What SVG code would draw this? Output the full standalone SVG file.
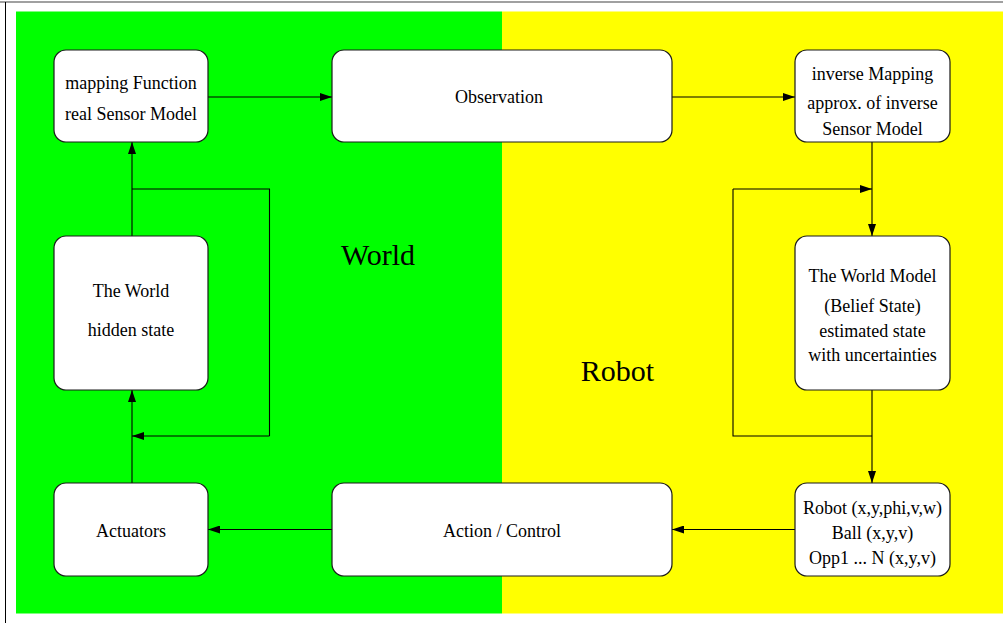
<svg xmlns="http://www.w3.org/2000/svg" width="1003" height="623" viewBox="0 0 1003 623">
  <style>
    .node rect { fill: #ffffff; stroke: #1a1a1a; stroke-width: 1.2; }
    .node text { font-family: "Liberation Serif", "Times New Roman", serif; font-size: 18px; fill: #000; text-anchor: middle; }
    .region { font-family: "Liberation Serif", "Times New Roman", serif; font-size: 30px; fill: #000; text-anchor: middle; }
    .edges path { fill: none; stroke: #000; stroke-width: 1.1; marker-end: url(#arrow); }
    .edges path.plain { marker-end: none; }
  </style>
  <defs>
    <marker id="arrow" viewBox="0 0 12 8" refX="12" refY="4" markerWidth="12" markerHeight="8" markerUnits="userSpaceOnUse" orient="auto">
      <path d="M0,0 L12,4 L0,8 Z" fill="#000"/>
    </marker>
  </defs>

  <!-- page frame -->
  <rect x="0" y="0" width="1003" height="623" fill="#ffffff"/>
  <line x1="0" y1="2" x2="1003" y2="2" stroke="#808080" stroke-width="1.5"/>
  <line x1="5.5" y1="2" x2="5.5" y2="623" stroke="#000" stroke-width="1"/>

  <!-- regions -->
  <rect x="16" y="11.5" width="486" height="602" fill="#00ff00"/>
  <rect x="502" y="11.5" width="501" height="602" fill="#ffff00"/>
  <text class="region" x="378" y="265">World</text>
  <text class="region" x="617.5" y="381">Robot</text>

  <!-- connectors -->
  <g class="edges">
    <path d="M208,97 L332,97"/>
    <path d="M672,97 L795,97"/>
    <path d="M872,142 L872,236"/>
    <path d="M872,390 L872,483"/>
    <path class="plain" d="M872,436 L733,436 L733,189"/>
    <path d="M733,189 L872,189"/>
    <path d="M795,529.5 L672,529.5"/>
    <path d="M332,529.5 L208,529.5"/>
    <path d="M132,483 L132,390"/>
    <path d="M132,236 L132,142"/>
    <path class="plain" d="M132,189 L269.5,189 L269.5,436"/>
    <path d="M269.5,436 L132,436"/>
  </g>

  <!-- nodes -->
  <g id="sensor-model" class="node">
    <rect x="54" y="50" width="154" height="92" rx="12" ry="12"/>
    <text x="131" y="89">mapping Function</text>
    <text x="131" y="119.5">real Sensor Model</text>
  </g>
  <g id="observation" class="node">
    <rect x="332" y="50" width="340" height="92" rx="12" ry="12"/>
    <text x="499" y="103">Observation</text>
  </g>
  <g id="inverse-mapping" class="node">
    <rect x="795" y="50" width="155" height="92" rx="12" ry="12"/>
    <text x="872.5" y="79.5">inverse Mapping</text>
    <text x="872.5" y="109">approx. of inverse</text>
    <text x="872.5" y="134.5">Sensor Model</text>
  </g>
  <g id="the-world" class="node">
    <rect x="54" y="236" width="154" height="154" rx="12" ry="12"/>
    <text x="131" y="297">The World</text>
    <text x="131" y="336">hidden state</text>
  </g>
  <g id="world-model" class="node">
    <rect x="795" y="236" width="155" height="154" rx="12" ry="12"/>
    <text x="872.5" y="282">The World Model</text>
    <text x="872.5" y="312">(Belief State)</text>
    <text x="872.5" y="337">estimated state</text>
    <text x="872.5" y="361">with uncertainties</text>
  </g>
  <g id="actuators" class="node">
    <rect x="54" y="483" width="154" height="93" rx="12" ry="12"/>
    <text x="131" y="537">Actuators</text>
  </g>
  <g id="action-control" class="node">
    <rect x="332" y="483" width="340" height="93" rx="12" ry="12"/>
    <text x="502" y="537">Action / Control</text>
  </g>
  <g id="state-vector" class="node">
    <rect x="795" y="483" width="155" height="93" rx="12" ry="12"/>
    <text x="872.5" y="514">Robot (x,y,phi,v,w)</text>
    <text x="872.5" y="539">Ball (x,y,v)</text>
    <text x="872.5" y="563.5">Opp1 ... N (x,y,v)</text>
  </g>
</svg>
